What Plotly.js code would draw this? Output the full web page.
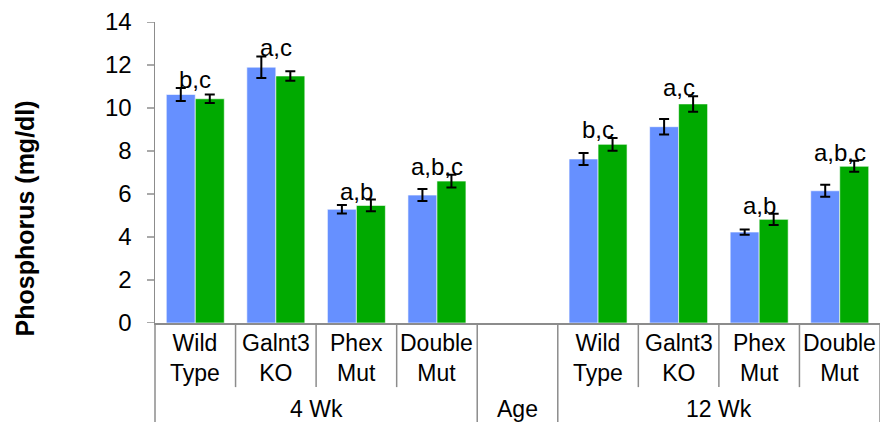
<!DOCTYPE html>
<html>
<head>
<meta charset="utf-8">
<script src="https://cdn.plot.ly/plotly-3.0.1.min.js"></script>
<style>html,body{margin:0;padding:0;background:#fff;}#chart{width:880px;height:422px;}</style>
</head>
<body>
<div id="chart"></div>
<script>
// Data
const groups = ["4 Wk","4 Wk","4 Wk","4 Wk","Age","12 Wk","12 Wk","12 Wk","12 Wk"];
const categories = ["Wild<br>Type","Galnt3<br>KO","Phex<br>Mut","Double<br>Mut"," ","Wild<br>Type","Galnt3<br>KO","Phex<br>Mut","Double<br>Mut"];
const blueValues = [10.63, 11.9, 5.29, 5.95, null, 7.63, 9.13, 4.23, 6.15];
const blueErrors = [0.3, 0.5, 0.2, 0.28, null, 0.28, 0.36, 0.12, 0.28];
const greenValues = [10.43, 11.49, 5.47, 6.6, null, 8.31, 10.19, 4.82, 7.29];
const greenErrors = [0.2, 0.22, 0.27, 0.3, null, 0.3, 0.36, 0.26, 0.26];
const sigLabels = ["b,c","a,c","a,b","a,b,c","","b,c","a,c","a,b","a,b,c"];
const yTickValues = [0, 2, 4, 6, 8, 10, 12, 14];
const yTitle = "Phosphorus (mg/dl)";

const FONT = "Arial, 'Liberation Sans', sans-serif";
const AXIS_GRAY = "#8c8c8c";
const nSlots = categories.length;

const errStyle = {type: "data", visible: true, color: "#000", thickness: 2, width: 5};

const traces = [
  {type: "bar", x: [groups, categories], y: blueValues, name: "blue",
   marker: {color: "#6690ff", line: {color: "rgba(255,255,255,0.6)", width: 1}},
   error_y: Object.assign({array: blueErrors}, errStyle), hoverinfo: "skip"},
  {type: "bar", x: [groups, categories], y: greenValues, name: "green",
   marker: {color: "#00aa00", line: {color: "rgba(255,255,255,0.6)", width: 1}},
   error_y: Object.assign({array: greenErrors}, errStyle), hoverinfo: "skip"}
];

const annotations = [];
// significance letters
sigLabels.forEach((lab, i) => {
  if (!lab) return;
  const top = Math.max(blueValues[i] + blueErrors[i], greenValues[i] + greenErrors[i]);
  annotations.push({
    xref: "paper", yref: "y", x: (i + 0.5) / nSlots, y: top,
    text: lab, showarrow: false, xanchor: "center", yanchor: "bottom", yshift: -7,
    font: {family: FONT, size: 24, color: "#000"}
  });
});
// category tick labels
categories.forEach((lab, i) => {
  if (!lab.trim()) return;
  annotations.push({
    xref: "paper", yref: "paper", x: (i + 0.5) / nSlots, y: 0,
    text: lab, showarrow: false, xanchor: "center", yanchor: "top", yshift: -5,
    font: {family: FONT, size: 23, color: "#000"}
  });
});
// group labels (centred on each run of equal group names)
const shapes = [];
let start = 0;
for (let i = 1; i <= nSlots; i++) {
  if (i === nSlots || groups[i] !== groups[start]) {
    annotations.push({
      xref: "paper", yref: "paper", x: (start + i) / 2 / nSlots, y: 0,
      text: groups[start], showarrow: false, xanchor: "center", yanchor: "top", yshift: -71,
      font: {family: FONT, size: 23, color: "#000"}
    });
    start = i;
  }
}
// dividers: full-depth at group boundaries, shorter between categories
for (let i = 0; i <= nSlots; i++) {
  const isGroupEdge = (i === 0 || i === nSlots || groups[i] !== groups[i - 1]);
  shapes.push({type: "line", xref: "paper", yref: "paper", x0: i / nSlots, x1: i / nSlots,
    y0: 0, y1: isGroupEdge ? -0.335 : -0.213, line: {color: AXIS_GRAY, width: 1.5}});
}
// visible short y tick marks (the axis' own ticks are transparent and only space the labels)
yTickValues.forEach(v => {
  shapes.push({type: "line", xref: "paper", yref: "y", xsizemode: "pixel", xanchor: 0,
    x0: -8, x1: 0, y0: v, y1: v, line: {color: AXIS_GRAY, width: 1.5}});
});
// y axis title
annotations.push({
  xref: "paper", yref: "paper", x: -0.179, y: 0.348, textangle: -90,
  text: "<b>" + yTitle + "</b>", showarrow: false, xanchor: "center", yanchor: "middle",
  font: {family: FONT, size: 25, color: "#000"}
});

const layout = {
  width: 880, height: 422,
  margin: {l: 155, r: 0, t: 22, b: 99},
  paper_bgcolor: "#fff", plot_bgcolor: "#fff",
  showlegend: false,
  barmode: "group", bargap: 0.28, bargroupgap: 0,
  font: {family: FONT, color: "#000"},
  xaxis: {
    type: "multicategory", showline: true, linecolor: AXIS_GRAY, linewidth: 1.5,
    ticks: "", showgrid: false, zeroline: false, showticklabels: false,
    showdividers: false
  },
  yaxis: {
    range: [0, 14], tickmode: "array", tickvals: yTickValues,
    ticks: "outside", ticklen: 17, tickcolor: "rgba(0,0,0,0)", tickwidth: 1,
    showline: true, linecolor: AXIS_GRAY, linewidth: 1.5, showgrid: false, zeroline: false,
    tickfont: {family: FONT, size: 24, color: "#000"}
  },
  annotations: annotations,
  shapes: shapes
};

Plotly.newPlot("chart", traces, layout, {staticPlot: true, displayModeBar: false});
</script>
</body>
</html>
